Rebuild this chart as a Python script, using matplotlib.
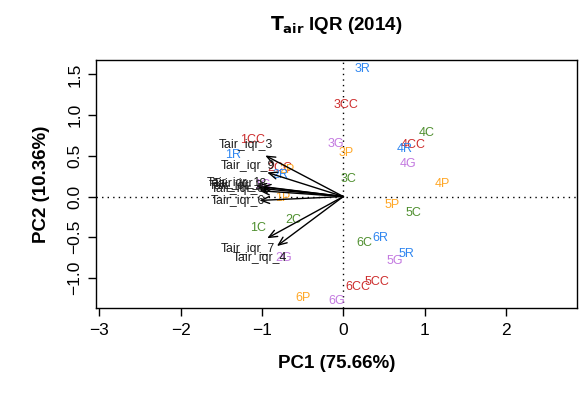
#!/usr/bin/env python3
"""
PCA biplot of air temperature IQR (2014): site scores and variable loadings
"""

import matplotlib.pyplot as plt

plt.rcParams["font.family"] = ["Liberation Sans", "DejaVu Sans"]

# site scores (PC1, PC2)
samples = [
    "1C", "2C", "3C", "4C", "5C", "6C",
    "1CC", "2CC", "3CC", "4CC", "5CC", "6CC",
    "1G", "2G", "3G", "4G", "5G", "6G",
    "1P", "2P", "3P", "4P", "5P", "6P",
    "1R", "2R", "3R", "4R", "5R", "6R",
]
pc1 = [
    -1.05, -0.62, 0.06, 1.02, 0.86, 0.26,
    -1.11, -0.78, 0.03, 0.86, 0.41, 0.18,
    -1.00, -0.73, -0.09, 0.80, 0.63, -0.08,
    -0.74, -0.69, 0.04, 1.22, 0.60, -0.50,
    -1.35, -0.78, 0.24, 0.75, 0.78, 0.45,
]
pc2 = [
    -0.39, -0.29, 0.22, 0.78, -0.20, -0.57,
    0.69, 0.35, 1.12, 0.63, -1.05, -1.11,
    0.14, -0.75, 0.64, 0.40, -0.79, -1.28,
    -0.02, 0.33, 0.53, 0.15, -0.10, -1.25,
    0.51, 0.26, 1.56, 0.58, -0.71, -0.51,
]
groups = [s.lstrip("0123456789") for s in samples]
group_colors = {
    "C": "#4f8f2f",
    "CC": "#cd2d2d",
    "G": "#c379e0",
    "P": "#ffa726",
    "R": "#2f86f0",
}

# variable loadings (label positions; arrows drawn to 0.8 of these)
variables = [
    "Tair_iqr_3", "Tair_iqr_9", "Tair_iqr_1", "Tair_iqr_8", "Tair_iqr_2",
    "Tair_iqr_5", "Tair_iqr_6", "Tair_iqr_7", "Tair_iqr_4",
]
load1 = [-1.20, -1.17, -1.34, -1.27, -1.32, -1.29, -1.29, -1.17, -1.02]
load2 = [0.63, 0.37, 0.165, 0.15, 0.13, 0.09, -0.06, -0.64, -0.76]

fig = plt.figure(figsize=(5.82, 3.93), dpi=100)
ax = fig.add_axes([0.165, 0.216, 0.826, 0.631])

for name, x, y, g in zip(samples, pc1, pc2, groups):
    ax.text(x, y, name, color=group_colors[g], fontsize=9,
            ha="center", va="center", zorder=2)

for name, x, y in zip(variables, load1, load2):
    ax.annotate("", xy=(0.8 * x, 0.8 * y), xytext=(0, 0),
                arrowprops=dict(arrowstyle="->,head_length=0.6,head_width=0.25",
                                color="black", lw=1.0, shrinkA=0, shrinkB=0),
                zorder=3)
    ax.text(x, y, name, color="#1a1a1a", fontsize=8.8,
            ha="center", va="center", zorder=4)

ax.axhline(0, color="black", lw=1.0, ls=(0, (1, 3)), zorder=1)
ax.axvline(0, color="black", lw=1.0, ls=(0, (1, 3)), zorder=1)

ax.set_xlim(-3.04, 2.87)
ax.set_ylim(-1.37, 1.675)
ax.set_xticks([-3, -2, -1, 0, 1, 2])
ax.set_yticks([-1.0, -0.5, 0.0, 0.5, 1.0, 1.5])
ax.set_yticklabels(["\u22121.0", "\u22120.5", "0.0", "0.5", "1.0", "1.5"],
                   rotation=90, va="center")
ax.tick_params(direction="out", length=6, width=1, labelsize=12.5, pad=5)
ax.tick_params(axis="y", pad=4)
for sp in ax.spines.values():
    sp.set_linewidth(1.0)

ax.set_xlabel("PC1 (75.66%)", fontsize=13.5, fontweight="bold", labelpad=12)
ax.set_ylabel("PC2 (10.36%)", fontsize=13.5, fontweight="bold", labelpad=12)
ax.set_title(r"$\mathbf{T_{air}}$ IQR (2014)", fontsize=13.5, fontweight="bold", pad=22)

plt.savefig("out.png", dpi=100)
